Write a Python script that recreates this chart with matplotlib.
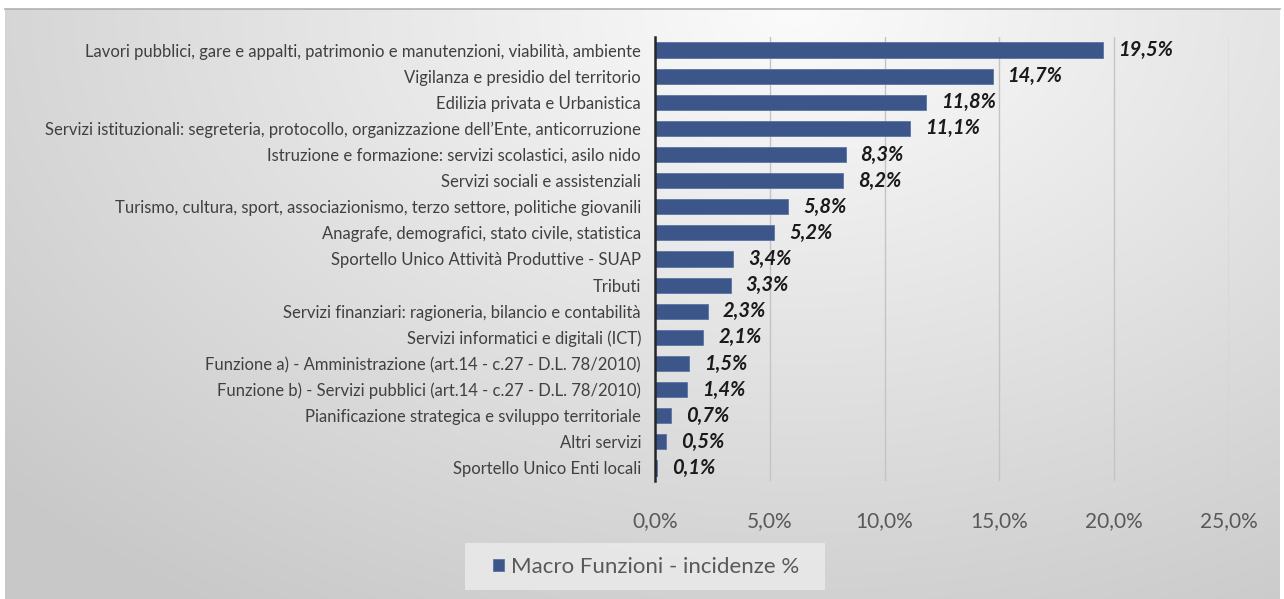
import numpy as np
import matplotlib.pyplot as plt
from matplotlib.patches import Rectangle

categorie = [
    "Lavori pubblici, gare e appalti, patrimonio e manutenzioni, viabilità, ambiente",
    "Vigilanza e presidio del territorio",
    "Edilizia privata e Urbanistica",
    "Servizi istituzionali: segreteria, protocollo, organizzazione dell\u2019Ente, anticorruzione",
    "Istruzione e formazione: servizi scolastici, asilo nido",
    "Servizi sociali e assistenziali",
    "Turismo, cultura, sport, associazionismo, terzo settore, politiche giovanili",
    "Anagrafe, demografici, stato civile, statistica",
    "Sportello Unico Attività Produttive - SUAP",
    "Tributi",
    "Servizi finanziari: ragioneria, bilancio e contabilità",
    "Servizi informatici e digitali (ICT)",
    "Funzione a) - Amministrazione (art.14 - c.27 - D.L. 78/2010)",
    "Funzione b) - Servizi pubblici (art.14 - c.27 - D.L. 78/2010)",
    "Pianificazione strategica e sviluppo territoriale",
    "Altri servizi",
    "Sportello Unico Enti locali",
]
valori = [19.5, 14.7, 11.8, 11.1, 8.3, 8.2, 5.8, 5.2, 3.4, 3.3, 2.3, 2.1, 1.5, 1.4, 0.7, 0.5, 0.1]
xticks = [0, 5, 10, 15, 20, 25]
serie = "Macro Funzioni - incidenze %"

plt.rcParams['font.family'] = ['Lato', 'DejaVu Sans']

W, H = 1284, 599
fig = plt.figure(figsize=(W / 100, H / 100), dpi=100)
fig.patch.set_facecolor('white')

# sfondo sfumato
bg = fig.add_axes([5 / W, 0, 1 - 9 / W, 1 - 9 / H])
yy, xx = np.mgrid[0:1:200j, 0:1:400j]
d = np.sqrt(((xx - 0.62) * 1.3) ** 2 + ((yy - 0.0) * 0.9) ** 2)
img = 0.985 - 0.2 * np.clip(d, 0, 1.1) / 1.1
bg.imshow(np.dstack([img, img, img]), aspect='auto', extent=[0, 1, 1, 0])
bg.set_axis_off()
fig.add_artist(plt.Line2D([5 / W, 1 - 4 / W], [1 - 9 / H, 1 - 9 / H],
                          color='#b0b0b0', lw=1.2, transform=fig.transFigure))

ax = fig.add_axes([655 / W, 1 - 481 / H, (1229 - 655) / W, (481 - 37) / H])
ax.patch.set_alpha(0)
y = np.arange(len(categorie))
ax.barh(y, valori, height=0.58, color='#3d5689', edgecolor='#5a74a6', lw=0.6,
        zorder=3, label=serie)
ax.set_ylim(len(categorie) - 0.5, -0.5)
ax.set_xlim(0, 25)
ax.set_xticks(xticks)
ax.set_xticklabels([f"{t:.1f}%".replace('.', ',') for t in xticks],
                   fontsize=15, color='#595959')
ax.set_yticks(y)
ax.set_yticklabels(categorie, fontsize=12, color='#404040')
ax.tick_params(axis='both', length=0)
ax.tick_params(axis='x', pad=22)
ax.tick_params(axis='y', pad=10)
ax.grid(axis='x', color='#c4c4c4', lw=1, zorder=0)
for s in ['top', 'right', 'bottom']:
    ax.spines[s].set_visible(False)
ax.spines['left'].set_color('#262626')
ax.spines['left'].set_linewidth(1.8)
ax.spines['left'].set_zorder(4)

for yi, v in zip(y, valori):
    ax.text(v + 0.65, yi, f"{v:.1f}%".replace('.', ','), va='center', ha='left',
            fontsize=14.5, fontweight='bold', fontstyle='italic', color='#1a1a1a')

# legenda
fig.add_artist(Rectangle((465 / W, 1 - 590 / H), 360 / W, 47 / H,
                         transform=fig.transFigure, facecolor='#ececec',
                         edgecolor='none', alpha=0.8))
leg = fig.legend(loc='center', bbox_to_anchor=(646 / W, 1 - 567 / H), frameon=False,
                 fontsize=16, handlelength=0.5, handleheight=0.5, handletextpad=0.3,
                 labelcolor='#595959')

fig.savefig('out.png', dpi=100)
